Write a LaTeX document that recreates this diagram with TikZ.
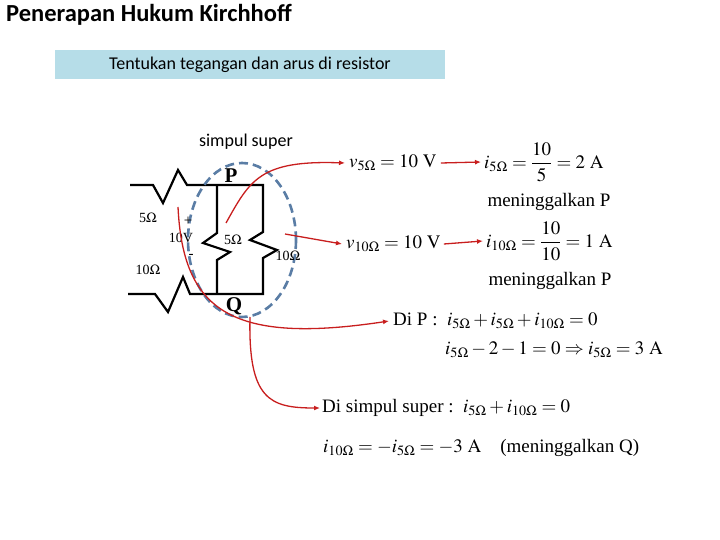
\documentclass[tikz,border=0pt]{standalone}
\usepackage{amsmath}
\usepackage{mathptmx}
\usepackage{fontspec}
\setmainfont{Liberation Serif}
\newfontfamily\calfont{Carlito}
\usetikzlibrary{arrows.meta}
\begin{document}
\begin{tikzpicture}[x=1pt,y=-1pt,
  wire/.style={line width=2.2pt,line join=miter},
  redline/.style={draw={rgb,255:red,200;green,30;blue,30},line width=1.3pt},
  redarr/.style={redline,-{Latex[length=6pt,width=5pt]}},
  eq/.style={font=\fontsize{19}{22}\selectfont,inner sep=0pt},
  lbl/.style={font=\fontsize{14}{16}\selectfont,inner sep=0pt}]
\useasboundingbox (0,0) rectangle (720,540);
\node[font=\calfont\bfseries\fontsize{24.5}{27}\selectfont,anchor=west,inner sep=0pt] (title) at (6,15) {Penerapan Hukum Kirchhoff};
\node[fill={rgb,255:red,182;green,221;blue,232},minimum width=390pt,minimum height=29pt,inner sep=0pt,font=\calfont\fontsize{18}{21}\selectfont] (box) at (250,64.5) {Tentukan tegangan dan arus di resistor};
\node[font=\calfont\fontsize{18}{21}\selectfont] (ss) at (246,142) {simpul super};
% circuit
\draw[wire] (130,185) -- (153,185) -- (163,203) -- (178,170) -- (187,185) -- (263,185) -- (263,232) -- (250,240) -- (277,250) -- (263,258) -- (263,294) -- (190,294) -- (183,277) -- (168,312) -- (155,294) -- (128,294);
\draw[wire] (217,185) -- (217,233) -- (203,243) -- (230,252) -- (217,260) -- (217,294);
\draw[dashed,draw={rgb,255:red,90;green,125;blue,165},line width=2.6pt,dash pattern=on 9pt off 5pt] (242,240) ellipse[x radius=54,y radius=77];
\node[lbl] (r1) at (148,218) {5$\Omega$};
\node[font=\fontsize{15}{16}\selectfont,inner sep=0pt] (pl) at (188,221) {+};
\node[lbl] (src) at (181,238) {10V};
\node[font=\fontsize{15}{16}\selectfont,inner sep=0pt] (mi) at (191,256) {-};
\node[lbl] (r2) at (233,240) {5$\Omega$};
\node[lbl] (r3) at (288,256) {10$\Omega$};
\node[lbl] (r4) at (148,270) {10$\Omega$};
\node[font=\bfseries\fontsize{21}{23}\selectfont,inner sep=0pt] (P) at (231,176) {P};
\node[font=\bfseries\fontsize{21}{23}\selectfont,inner sep=0pt] (Q) at (234,306) {Q};
% equations
\node[eq,anchor=west] (v5) at (349,163) {$v_{5\Omega}=10\ \mathrm{V}$};
\node[eq,anchor=west] (i5) at (484,162) {$i_{5\Omega}=\dfrac{10}{5}=2\ \mathrm{A}$};
\node[eq] (m1) at (549,202) {meninggalkan P};
\node[eq,anchor=west] (v10) at (346,244) {$v_{10\Omega}=10\ \mathrm{V}$};
\node[eq,anchor=west] (i10) at (486,241) {$i_{10\Omega}=\dfrac{10}{10}=1\ \mathrm{A}$};
\node[eq] (m2) at (550,281) {meninggalkan P};
\node[eq,anchor=west] (dp) at (393,321) {Di P :\ \ $i_{5\Omega}+i_{5\Omega}+i_{10\Omega}=0$};
\node[eq,anchor=west] (dp2) at (445,350) {$i_{5\Omega}-2-1=0\Rightarrow i_{5\Omega}=3\ \mathrm{A}$};
\node[eq,anchor=west] (ds) at (322,408) {Di simpul super :\ \ $i_{5\Omega}+i_{10\Omega}=0$};
\node[eq,anchor=west] (last) at (323,448) {$i_{10\Omega}=-i_{5\Omega}=-3\ \mathrm{A}$\quad (meninggalkan Q)};
% red connectors
\draw[redarr] ([xshift=4pt]v5.east) -- ([xshift=-3pt]i5.west);
\draw[redarr] ([xshift=3pt]v10.east) -- ([xshift=-3pt]i10.west);
\draw[redarr] (226,223) .. controls (250,180) and (260,160) .. ([xshift=-4pt]v5.west);
\draw[redarr] (285,234) -- ([xshift=-4pt]v10.west);
\draw[redarr] (178,207) .. controls (183,310) and (230,345) .. ([xshift=-4pt]dp.west);
\draw[redarr] (250,317) .. controls (248,400) and (270,408) .. ([xshift=-2pt]ds.west);
\end{tikzpicture}
\end{document}
